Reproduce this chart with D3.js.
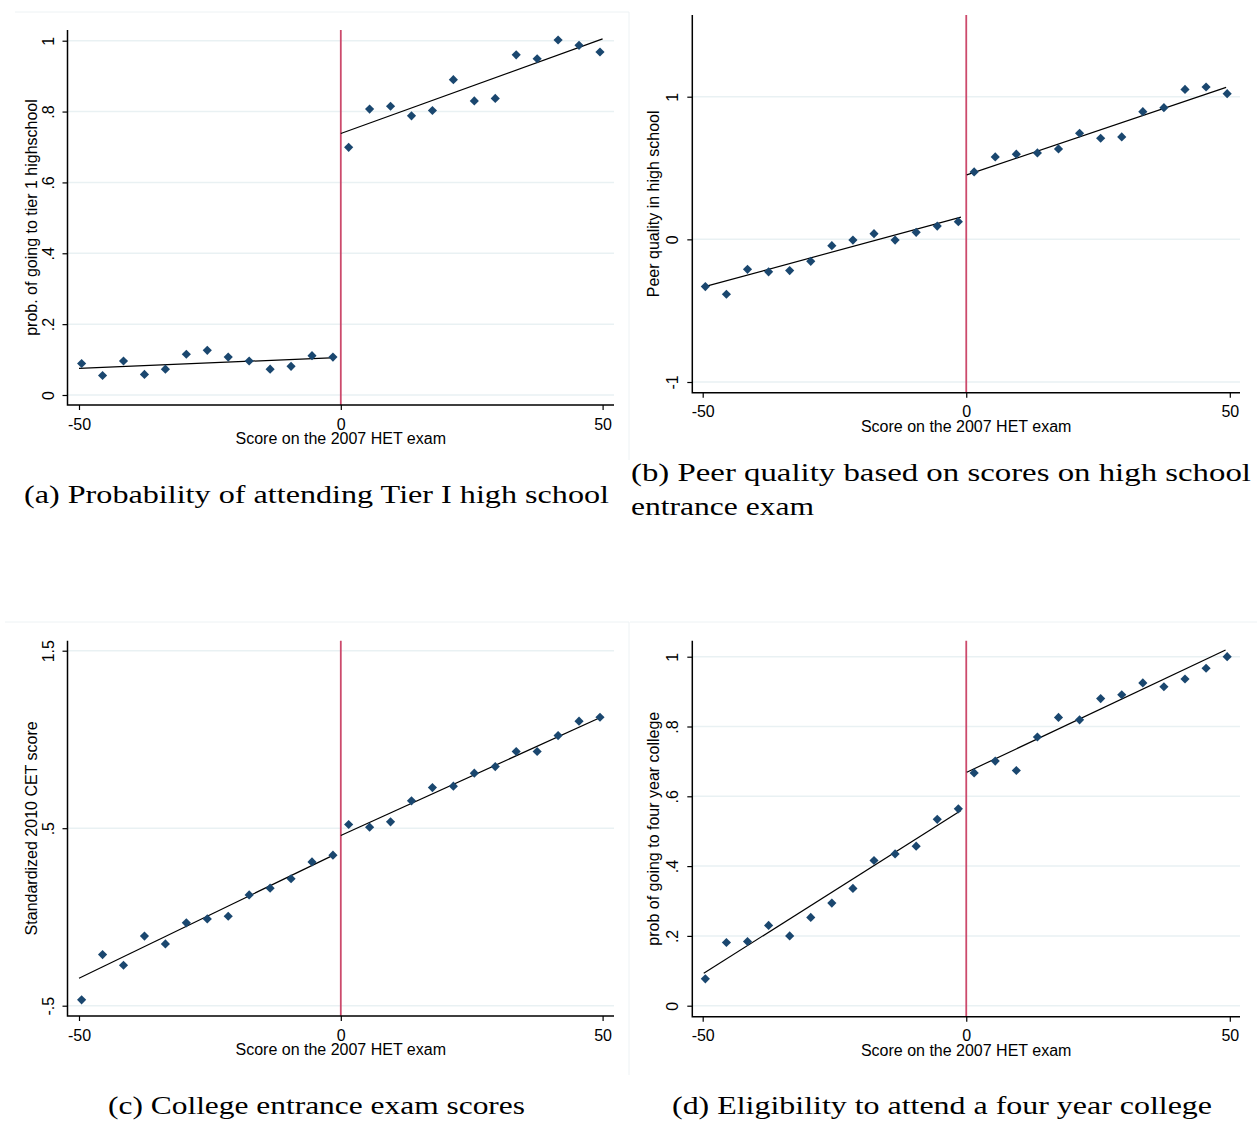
<!DOCTYPE html>
<html>
<head>
<meta charset="utf-8">
<script src="https://cdn.jsdelivr.net/npm/d3@7"></script>
<style>
  html, body { margin: 0; padding: 0; background: #ffffff; }
  svg { display: block; }
  .tick text { font-family: "Liberation Sans", Arial, sans-serif; font-size: 16px; fill: #000; }
</style>
</head>
<body>
<svg id="chart" width="1257" height="1127"></svg>
<script>
// ---------- data ----------
const binsLeft  = [-49.5,-45.5,-41.5,-37.5,-33.5,-29.5,-25.5,-21.5,-17.5,-13.5,-9.5,-5.5,-1.5];
const binsRight = [1.5,5.5,9.5,13.5,17.5,21.5,25.5,29.5,33.5,37.5,41.5,45.5,49.5];

const tierLeft  = [0.089,0.055,0.096,0.058,0.073,0.115,0.126,0.107,0.096,0.073,0.081,0.111,0.107];
const tierRight = [0.699,0.807,0.815,0.788,0.803,0.890,0.830,0.837,0.960,0.949,1.002,0.987,0.968];
const tierFitLeft  = [[-50, 0.075], [-2, 0.105]];
const tierFitRight = [[0, 0.738], [50, 1.005]];

const peerLeft  = [-0.331,-0.385,-0.210,-0.228,-0.219,-0.154,-0.044,-0.005,0.040,-0.005,0.049,0.093,0.124];
const peerRight = [0.473,0.578,0.597,0.606,0.634,0.744,0.709,0.718,0.895,0.923,1.051,1.068,1.021];
const peerFitLeft  = [[-49.8, -0.333], [-1, 0.156]];
const peerFitRight = [[0.1, 0.452], [49.3, 1.065]];

const cetLeft  = [-0.467,-0.212,-0.272,-0.108,-0.152,-0.033,-0.011,0.004,0.124,0.162,0.215,0.310,0.348];
const cetRight = [0.521,0.506,0.536,0.654,0.729,0.737,0.810,0.847,0.932,0.932,1.022,1.103,1.125];
const cetFitLeft  = [[-50, -0.345], [-2, 0.340]];
const cetFitRight = [[0, 0.459], [50, 1.129]];

const collegeLeft  = [0.077,0.181,0.184,0.230,0.200,0.253,0.294,0.336,0.416,0.435,0.457,0.534,0.564];
const collegeRight = [0.667,0.701,0.674,0.770,0.826,0.819,0.880,0.891,0.925,0.914,0.936,0.967,1.000];
const collegeFitLeft  = [[-49.8, 0.093], [-1, 0.559]];
const collegeFitRight = [[0.1, 0.669], [49.2, 1.019]];

const xTicks = [-50, 0, 50];
const xTickLabels = ["-50", "0", "50"];
const xTitle = "Score on the 2007 HET exam";
const cutoff = 0;

const probTicks = [0, 0.2, 0.4, 0.6, 0.8, 1];
const probTickLabels = ["0", ".2", ".4", ".6", ".8", "1"];
const peerTicks = [-1, 0, 1];
const peerTickLabels = ["-1", "0", "1"];
const cetTicks = [-0.5, 0.5, 1.5];
const cetTickLabels = ["-.5", ".5", "1.5"];

const yTitles = [
  "prob. of going to tier 1 highschool",
  "Peer quality in high school",
  "Standardized 2010 CET score",
  "prob of going to four year college"
];
const captions = [
  ["(a) Probability of attending Tier I high school"],
  ["(b) Peer quality based on scores on high school", "entrance exam"],
  ["(c) College entrance exam scores"],
  ["(d) Eligibility to attend a four year college"]
];

// ---------- layout (style only) ----------
const panels = [
  { left: tierLeft, right: tierRight, fitL: tierFitLeft, fitR: tierFitRight,
    yDom: [0, 1], ticks: probTicks, tickLabels: probTickLabels, title: yTitles[0],
    xR: [79, 602.6], axL: 67.5, axR: 614, yR: [395, 40.7], top: 30, bottom: 405, yTitleOff: -31 },
  { left: peerLeft, right: peerRight, fitL: peerFitLeft, fitR: peerFitRight,
    yDom: [-1, 1], ticks: peerTicks, tickLabels: peerTickLabels, title: yTitles[1],
    xR: [702.7, 1229.8], axL: 692.3, axR: 1240, yR: [382, 96.7], top: 15, bottom: 392.7, yTitleOff: -33.5 },
  { left: cetLeft, right: cetRight, fitL: cetFitLeft, fitR: cetFitRight,
    yDom: [-0.5, 1.5], ticks: cetTicks, tickLabels: cetTickLabels, title: yTitles[2],
    xR: [79, 602.6], axL: 67.5, axR: 614, yR: [1005.7, 650.7], top: 640.7, bottom: 1016, yTitleOff: -31 },
  { left: collegeLeft, right: collegeRight, fitL: collegeFitLeft, fitR: collegeFitRight,
    yDom: [0, 1], ticks: probTicks, tickLabels: probTickLabels, title: yTitles[3],
    xR: [702.7, 1229.8], axL: 692.3, axR: 1240, yR: [1005.7, 656.7], top: 640.7, bottom: 1016.7, yTitleOff: -33.5 }
];

const svg = d3.select("#chart");
const gridColor = "#e9f1f3";
const navy = "#1a476f";
const red = "#cc4a6c";
const font = '"Liberation Sans", Arial, sans-serif';

// faint graph-region borders
const borders = [
  [15, 12, 629, 12], [629, 12, 629, 460],
  [5, 622, 629, 622], [629, 622, 629, 1075],
  [630, 622, 1257, 622]
];
svg.append("g").selectAll("line").data(borders).join("line")
  .attr("x1", d => d[0]).attr("y1", d => d[1]).attr("x2", d => d[2]).attr("y2", d => d[3])
  .attr("stroke", "#edf2f4").attr("stroke-width", 1);

const diamond = d3.symbol().type(d3.symbolSquare).size(42);

panels.forEach(p => {
  const g = svg.append("g");
  const x = d3.scaleLinear().domain([-50, 50]).range(p.xR);
  const y = d3.scaleLinear().domain(p.yDom).range(p.yR);

  // gridlines
  g.append("g").selectAll("line").data(p.ticks).join("line")
    .attr("x1", p.axL).attr("x2", p.axR)
    .attr("y1", d => y(d)).attr("y2", d => y(d))
    .attr("stroke", gridColor).attr("stroke-width", 1.5);

  // cutoff line
  g.append("line")
    .attr("x1", x(cutoff)).attr("x2", x(cutoff))
    .attr("y1", p.top).attr("y2", p.bottom)
    .attr("stroke", red).attr("stroke-width", 1.8);

  // fit lines
  const line = d3.line().x(d => x(d[0])).y(d => y(d[1]));
  [p.fitL, p.fitR].forEach(f => {
    g.append("path").attr("d", line(f))
      .attr("fill", "none").attr("stroke", "#000").attr("stroke-width", 1.2);
  });

  // points
  const pts = binsLeft.map((b, i) => [b, p.left[i]]).concat(binsRight.map((b, i) => [b, p.right[i]]));
  g.append("g").selectAll("path").data(pts).join("path")
    .attr("d", diamond)
    .attr("transform", d => `translate(${x(d[0])},${y(d[1])}) rotate(45)`)
    .attr("fill", navy);

  // y axis
  const yAxis = d3.axisLeft(y).tickValues(p.ticks)
    .tickFormat((d, i) => p.tickLabels[i]).tickSize(5).tickSizeOuter(0);
  const ya = g.append("g").attr("transform", `translate(${p.axL},0)`).call(yAxis);
  ya.select(".domain").remove();
  ya.selectAll(".tick line").attr("stroke", "#000").attr("stroke-width", 1.2);
  ya.selectAll(".tick text")
    .attr("x", 0).attr("y", -14).attr("dy", 0)
    .attr("transform", "rotate(-90)")
    .attr("text-anchor", "middle")
    .style("font-family", font).style("font-size", "16px").attr("fill", "#000");

  // x axis
  const xAxis = d3.axisBottom(x).tickValues(xTicks)
    .tickFormat((d, i) => xTickLabels[i]).tickSize(5).tickSizeOuter(0);
  const xa = g.append("g").attr("transform", `translate(0,${p.bottom})`).call(xAxis);
  xa.select(".domain").remove();
  xa.selectAll(".tick line").attr("stroke", "#000").attr("stroke-width", 1.2);
  xa.selectAll(".tick text")
    .attr("y", 24.5).attr("dy", 0)
    .style("font-family", font).style("font-size", "16px").attr("fill", "#000");

  // axis lines
  g.append("path")
    .attr("d", `M${p.axL},${p.top}V${p.bottom}H${p.axR}`)
    .attr("fill", "none").attr("stroke", "#000").attr("stroke-width", 1.5);

  // titles
  g.append("text")
    .attr("x", (p.axL + p.axR) / 2).attr("y", p.bottom + 39)
    .attr("text-anchor", "middle")
    .style("font-family", font).style("font-size", "16px")
    .text(xTitle);
  g.append("text")
    .attr("transform", `translate(${p.axL + p.yTitleOff},${(p.top + p.bottom) / 2}) rotate(-90)`)
    .attr("text-anchor", "middle")
    .style("font-family", font).style("font-size", "16px")
    .text(p.title);
});

// captions
const capPos = [
  [{ x: 24, y: 503, w: 585 }],
  [{ x: 631, y: 481, w: 620 }, { x: 631, y: 515, w: 183 }],
  [{ x: 108, y: 1114, w: 417 }],
  [{ x: 672, y: 1114, w: 540 }]
];
captions.forEach((lines, ci) => {
  lines.forEach((t, li) => {
    const pos = capPos[ci][li];
    svg.append("text")
      .attr("x", pos.x).attr("y", pos.y)
      .attr("textLength", pos.w).attr("lengthAdjust", "spacingAndGlyphs")
      .style("font-family", '"Liberation Serif", "Times New Roman", serif')
      .style("font-size", "26px")
      .text(t);
  });
});
</script>
</body>
</html>
